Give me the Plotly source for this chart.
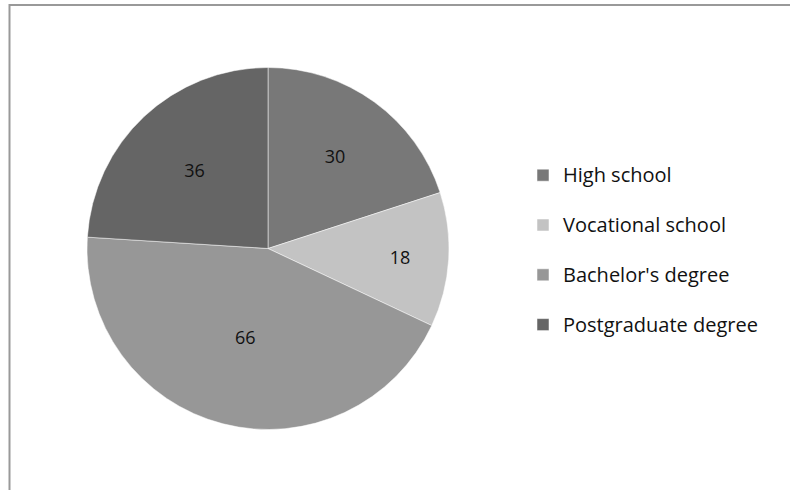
import plotly.graph_objects as go

labels = ["High school", "Vocational school", "Bachelor's degree", "Postgraduate degree"]
values = [30, 18, 66, 36]
colors = ["#787878", "#c3c3c3", "#979797", "#656565"]

W, H = 790, 490
cx, cy, r = 268, 248.5, 181

# larger label text plus a blank line below it reproduces the original's legend size and spacing
legend_labels = ["<span style='font-size:20px'>" + lab + "</span><br>&nbsp;" for lab in labels]

fig = go.Figure(go.Pie(
    labels=legend_labels, values=values, sort=False, direction="clockwise", rotation=0,
    marker=dict(colors=colors, line=dict(color="rgba(255,255,255,0.5)", width=1)),
    textinfo="value", textposition="inside", insidetextorientation="horizontal",
    textfont=dict(family="Open Sans", size=18, color="#111"),
    hovertext=labels, hoverinfo="text+value",
    domain=dict(x=[(cx - r) / W, (cx + r) / W], y=[(H - cy - r) / H, (H - cy + r) / H]),
))

fig.update_layout(
    width=W, height=H, margin=dict(l=0, r=0, t=0, b=0),
    paper_bgcolor="white", plot_bgcolor="white",
    showlegend=True,
    legend=dict(x=523 / W, y=1 - 157 / H, xanchor="left", yanchor="top",
                valign="top",
                font=dict(family="Open Sans", size=18, color="#111"),
                itemwidth=30, bgcolor="rgba(0,0,0,0)"),
    shapes=[dict(type="rect", xref="paper", yref="paper",
                 x0=9.5 / W, x1=1.05, y0=-0.05, y1=1 - 5 / H,
                 line=dict(color="#999999", width=2), layer="below")],
)

fig.write_html("out.html")
